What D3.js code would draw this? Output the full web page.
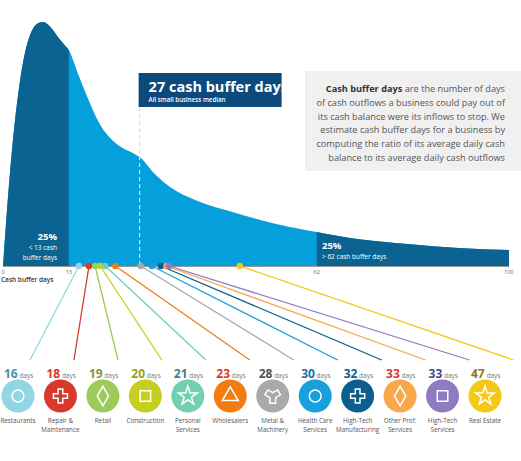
<!DOCTYPE html><html><head><meta charset="utf-8"><script src="https://cdn.jsdelivr.net/npm/d3@7"></script>
<style>body{margin:0;background:#fff}svg{font-family:"Open Sans",sans-serif}</style></head><body><svg id="c" width="521" height="461"></svg><script>
const curveDays=[0,1,2,3,4,5,6,7,8,9,10,11,12,13,15,17,19,22,26,27,30,33,38,46,54,62,70,80,90,100];
const curveDensity=[0,70,128,172,205,226,238,243,244,241,235,228,222,216,190,165,143,124,112,109,92,79,66,53,42,34,27,22,18,16];
const tickDays=[0,13,62,100];
const industries=["Restaurants","Repair & Maintenance","Retail","Construction","Personal Services","Wholesalers","Metal & Machinery","Health Care Services","High-Tech Manufacturing","Other Prof. Services","High-Tech Services","Real Estate"];
const industryDays=[16,18,19,20,21,23,28,30,32,33,33,47];
const dotDays=[15,17,18.2,19.2,20.2,22.2,27.2,29.4,31.2,32.3,32.8,46.8];
const colors=["#92d6e3","#d8392b","#9dcb5b","#c5cf1d","#73cfb2","#f27b12","#a9a9a9","#18a0dc","#0b5e8e","#f7a84b","#8e7bc1","#f4c816"];
const numColors=["#4a8fa3","#d8392b","#7a9a3a","#9aa01a","#3a7f8a","#d8392b","#555","#1b6fb0","#0b5e8e","#d8392b","#4a4a8a","#8a7a10"];
const svg=d3.select("#c");
const x=d3.scaleLinear().domain([0,100]).range([3,509]);
const y=d3.scaleLinear().domain([0,244]).range([266,22]);
const pts=curveDays.map((d,i)=>[d,curveDensity[i]]);
const area=d3.area().x(d=>x(d[0])).y0(y(0)).y1(d=>y(d[1])).curve(d3.curveMonotoneX);
svg.append("path").attr("d",area(pts)).attr("fill","#05a0dc");
const clip=(a,b)=>{svg.append("clipPath").attr("id","k"+a).append("rect").attr("x",x(a)).attr("y",0).attr("width",x(b)-x(a)).attr("height",270);
 svg.append("path").attr("d",area(pts)).attr("fill","#0b6391").attr("clip-path","url(#k"+a+")");};
clip(0,13);clip(62,100);
svg.append("line").attr("x1",x(27)).attr("x2",x(27)).attr("y1",107).attr("y2",266).attr("stroke","#bfe6f7").attr("stroke-width",1.2).attr("stroke-dasharray","4,3");
svg.append("rect").attr("x",x(27)-1).attr("y",73).attr("width",143).attr("height",34).attr("fill","#0c4a7e");
svg.append("text").attr("x",x(27)+9).attr("y",92).attr("fill","#fff").attr("font-size",14.5).attr("font-weight",700).text("27 cash buffer days");
svg.append("text").attr("x",x(27)+9).attr("y",102).attr("fill","#fff").attr("font-size",6.2).attr("font-weight",600).text("All small business median");
svg.append("rect").attr("x",305).attr("y",71).attr("width",216).attr("height",100).attr("fill","#f0f0f0");
const para=[["Cash buffer days"," are the number of days"],["","of cash outflows a business could pay out of"],["","its cash balance were its inflows to stop. We"],["","estimate cash buffer days for a business by"],["","computing the ratio of its average daily cash"],["","balance to its average daily cash outflows"]];
para.forEach((p,i)=>{const t=svg.append("text").attr("x",505).attr("y",92+i*13.8).attr("text-anchor","end").attr("font-size",9.2).attr("fill","#555");
 if(p[0])t.append("tspan").attr("font-weight",700).attr("fill","#333").text(p[0]);t.append("tspan").text(p[1]);});
svg.append("text").attr("x",57).attr("y",240).attr("text-anchor","end").attr("fill","#fff").attr("font-size",9.5).attr("font-weight",700).text("25%");
svg.append("text").attr("x",57).attr("y",250).attr("text-anchor","end").attr("fill","#fff").attr("font-size",6.5).text("< 13 cash");
svg.append("text").attr("x",57).attr("y",260).attr("text-anchor","end").attr("fill","#fff").attr("font-size",6.5).text("buffer days");
svg.append("text").attr("x",322).attr("y",249).attr("fill","#fff").attr("font-size",9.5).attr("font-weight",700).text("25%");
svg.append("text").attr("x",322).attr("y",259).attr("fill","#fff").attr("font-size",6.5).text("> 62 cash buffer days");
svg.append("line").attr("x1",x(0)).attr("x2",x(100)).attr("y1",266.5).attr("y2",266.5).attr("stroke","#999");
tickDays.forEach(t=>svg.append("text").attr("x",x(t)).attr("y",274).attr("text-anchor","middle").attr("font-size",5.5).attr("fill","#666").text(t));
svg.append("text").attr("x",1).attr("y",282).attr("font-size",6.5).attr("font-weight",600).attr("fill","#333").text("Cash buffer days");
const ix=d3.scalePoint().domain(industries).range([18,485]);
industries.forEach((n,i)=>{const cx=ix(n);
 svg.append("line").attr("x1",x(dotDays[i])).attr("y1",266).attr("x2",cx+12+i*1.5).attr("y2",360).attr("stroke",colors[i]).attr("stroke-width",1.3);});
industries.forEach((n,i)=>{const cx=ix(n);
 svg.append("circle").attr("cx",x(dotDays[i])).attr("cy",266).attr("r",3.2).attr("fill",colors[i]);
 svg.append("circle").attr("cx",cx).attr("cy",396).attr("r",16.5).attr("fill",colors[i]);
 svg.append("path").attr("transform",`translate(${cx},396)`).attr("d",d3.symbol(d3.symbolsFill[i%7],110)()).attr("fill","none").attr("stroke","#fff").attr("stroke-width",1.5);
 const t=svg.append("text").attr("x",cx-14).attr("y",378);
 t.append("tspan").attr("font-size",12).attr("font-weight",700).attr("fill",numColors[i]).text(industryDays[i]);
 t.append("tspan").attr("font-size",6.5).attr("fill","#777").text(" days");
 const words=n.includes("&")?n.split(/(?<=&) /):n.split(" ").length>1&&n.length>11?[n.slice(0,n.lastIndexOf(" ")),n.slice(n.lastIndexOf(" ")+1)]:[n];
 words.forEach((w,j)=>svg.append("text").attr("x",cx).attr("y",423+j*9).attr("text-anchor","middle").attr("font-size",6.3).attr("fill","#555").text(w));
});
</script></body></html>
